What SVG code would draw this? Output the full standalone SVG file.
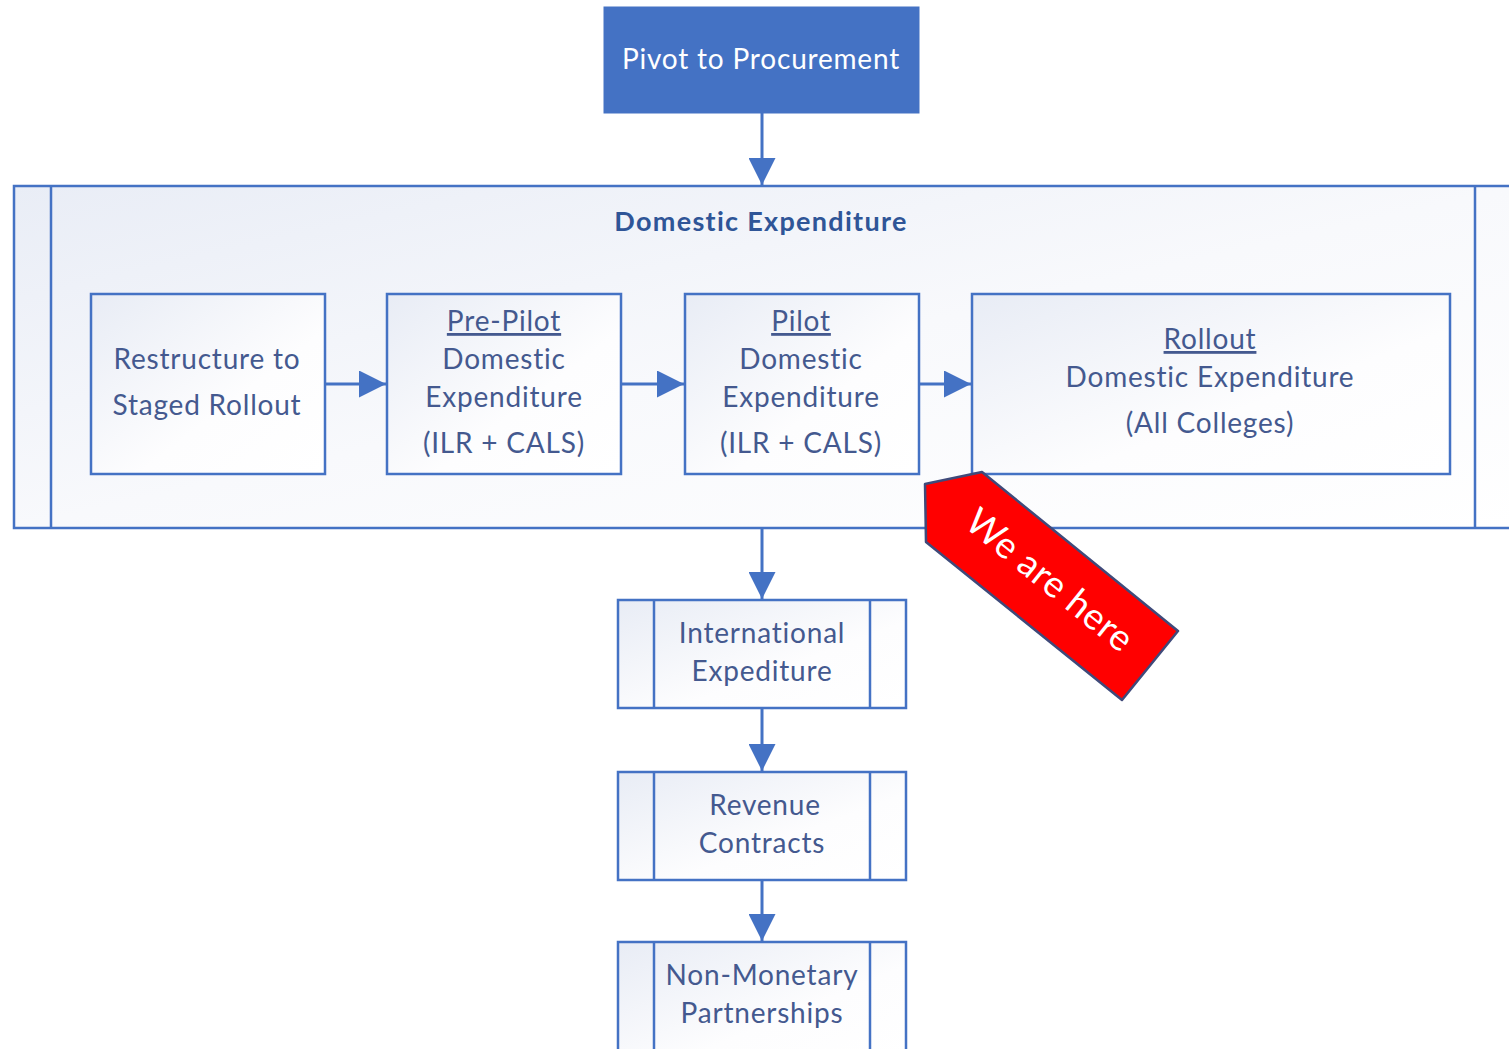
<svg xmlns="http://www.w3.org/2000/svg" width="1509" height="1049" viewBox="0 0 1509 1049">
<defs>
<linearGradient id="gC" x1="0" y1="0" x2="1" y2="1">
<stop offset="0" stop-color="#E9EDF6"/><stop offset="0.5" stop-color="#F8F9FC"/><stop offset="1" stop-color="#FFFFFF"/>
</linearGradient>
<linearGradient id="gB" x1="0" y1="0" x2="1" y2="1">
<stop offset="0" stop-color="#E8ECF5"/><stop offset="0.6" stop-color="#FDFDFE"/><stop offset="1" stop-color="#FFFFFF"/>
</linearGradient>
<marker id="ahb" viewBox="0 0 10 10" refX="10" refY="5" markerWidth="27" markerHeight="27" markerUnits="userSpaceOnUse" orient="auto">
<path d="M0,0 L10,5 L0,10 Z" fill="#4472C4"/>
</marker>
</defs>
<style>
.box{fill:url(#gB);stroke:#4472C4;stroke-width:2.5}
.side{stroke:#4472C4;stroke-width:2.5;fill:none}
.t{font-family:Lato,"Liberation Sans",sans-serif;font-size:28px;letter-spacing:0.8px;fill:#44598F;text-anchor:middle}
.u{text-decoration:underline}
.conn{stroke:#4472C4;stroke-width:3;fill:none;marker-end:url(#ahb)}
</style>
<rect width="1509" height="1049" fill="#FFFFFF"/>

<g id="container">
<rect x="14" y="186" width="1510" height="342" fill="url(#gC)" stroke="#4472C4" stroke-width="2.5"/>
<line class="side" x1="51" y1="186" x2="51" y2="528"/>
<line class="side" x1="1475" y1="186" x2="1475" y2="528"/>
<text class="t" x="761" y="231" style="font-weight:bold;font-size:27px;letter-spacing:1.3px;fill:#2F5597">Domestic Expenditure</text>
</g>

<g id="pivot">
<rect x="604" y="7" width="315" height="106" fill="#4472C4" stroke="#4472C4" stroke-width="1"/>
<text class="t" x="761" y="69" style="fill:#FFFFFF">Pivot to Procurement</text>
</g>

<g id="restructure">
<rect class="box" x="91" y="294" width="234" height="180"/>
<text class="t" x="207" y="369">Restructure to</text>
<text class="t" x="207" y="415">Staged Rollout</text>
</g>

<g id="prepilot">
<rect class="box" x="387" y="294" width="234" height="180"/>
<text class="t u" x="504" y="331">Pre-Pilot</text>
<text class="t" x="504" y="369">Domestic</text>
<text class="t" x="504" y="407">Expenditure</text>
<text class="t" x="504" y="453">(ILR + CALS)</text>
</g>

<g id="pilot">
<rect class="box" x="685" y="294" width="234" height="180"/>
<text class="t u" x="801" y="331">Pilot</text>
<text class="t" x="801" y="369">Domestic</text>
<text class="t" x="801" y="407">Expenditure</text>
<text class="t" x="801" y="453">(ILR + CALS)</text>
</g>

<g id="rollout">
<rect class="box" x="972" y="294" width="478" height="180"/>
<text class="t u" x="1210" y="349">Rollout</text>
<text class="t" x="1210" y="387">Domestic Expenditure</text>
<text class="t" x="1210" y="433">(All Colleges)</text>
</g>

<g id="international">
<rect class="box" x="618" y="600" width="288" height="108"/>
<line class="side" x1="654" y1="600" x2="654" y2="708"/>
<line class="side" x1="870" y1="600" x2="870" y2="708"/>
<text class="t" x="762" y="643">International</text>
<text class="t" x="762" y="681">Expediture</text>
</g>

<g id="revenue">
<rect class="box" x="618" y="772" width="288" height="108"/>
<line class="side" x1="654" y1="772" x2="654" y2="880"/>
<line class="side" x1="870" y1="772" x2="870" y2="880"/>
<text class="t" x="765" y="815">Revenue</text>
<text class="t" x="762" y="853">Contracts</text>
</g>

<g id="nonmonetary">
<rect class="box" x="618" y="942" width="288" height="120"/>
<line class="side" x1="654" y1="942" x2="654" y2="1060"/>
<line class="side" x1="870" y1="942" x2="870" y2="1060"/>
<text class="t" x="762" y="985">Non-Monetary</text>
<text class="t" x="762" y="1023">Partnerships</text>
</g>

<g id="connectors">
<line class="conn" x1="762" y1="113" x2="762" y2="185"/>
<line class="conn" x1="325" y1="384" x2="386" y2="384"/>
<line class="conn" x1="621" y1="384" x2="684" y2="384"/>
<line class="conn" x1="919" y1="384" x2="971" y2="384"/>
<line class="conn" x1="762" y1="528" x2="762" y2="599"/>
<line class="conn" x1="762" y1="708" x2="762" y2="771"/>
<line class="conn" x1="762" y1="880" x2="762" y2="941"/>
</g>

<g id="we-are-here">
<polygon points="925,484 982,472 1178,631 1122,700 926,542" fill="#FF0000" stroke="#3F4A7A" stroke-width="2.5" stroke-linejoin="round"/>
<text x="0" y="0" transform="translate(1042,590) rotate(39)" style="font-family:Lato,'Liberation Sans',sans-serif;font-size:37px;letter-spacing:0.5px;fill:#FFFFFF;text-anchor:middle">We are here</text>
</g>
</svg>
